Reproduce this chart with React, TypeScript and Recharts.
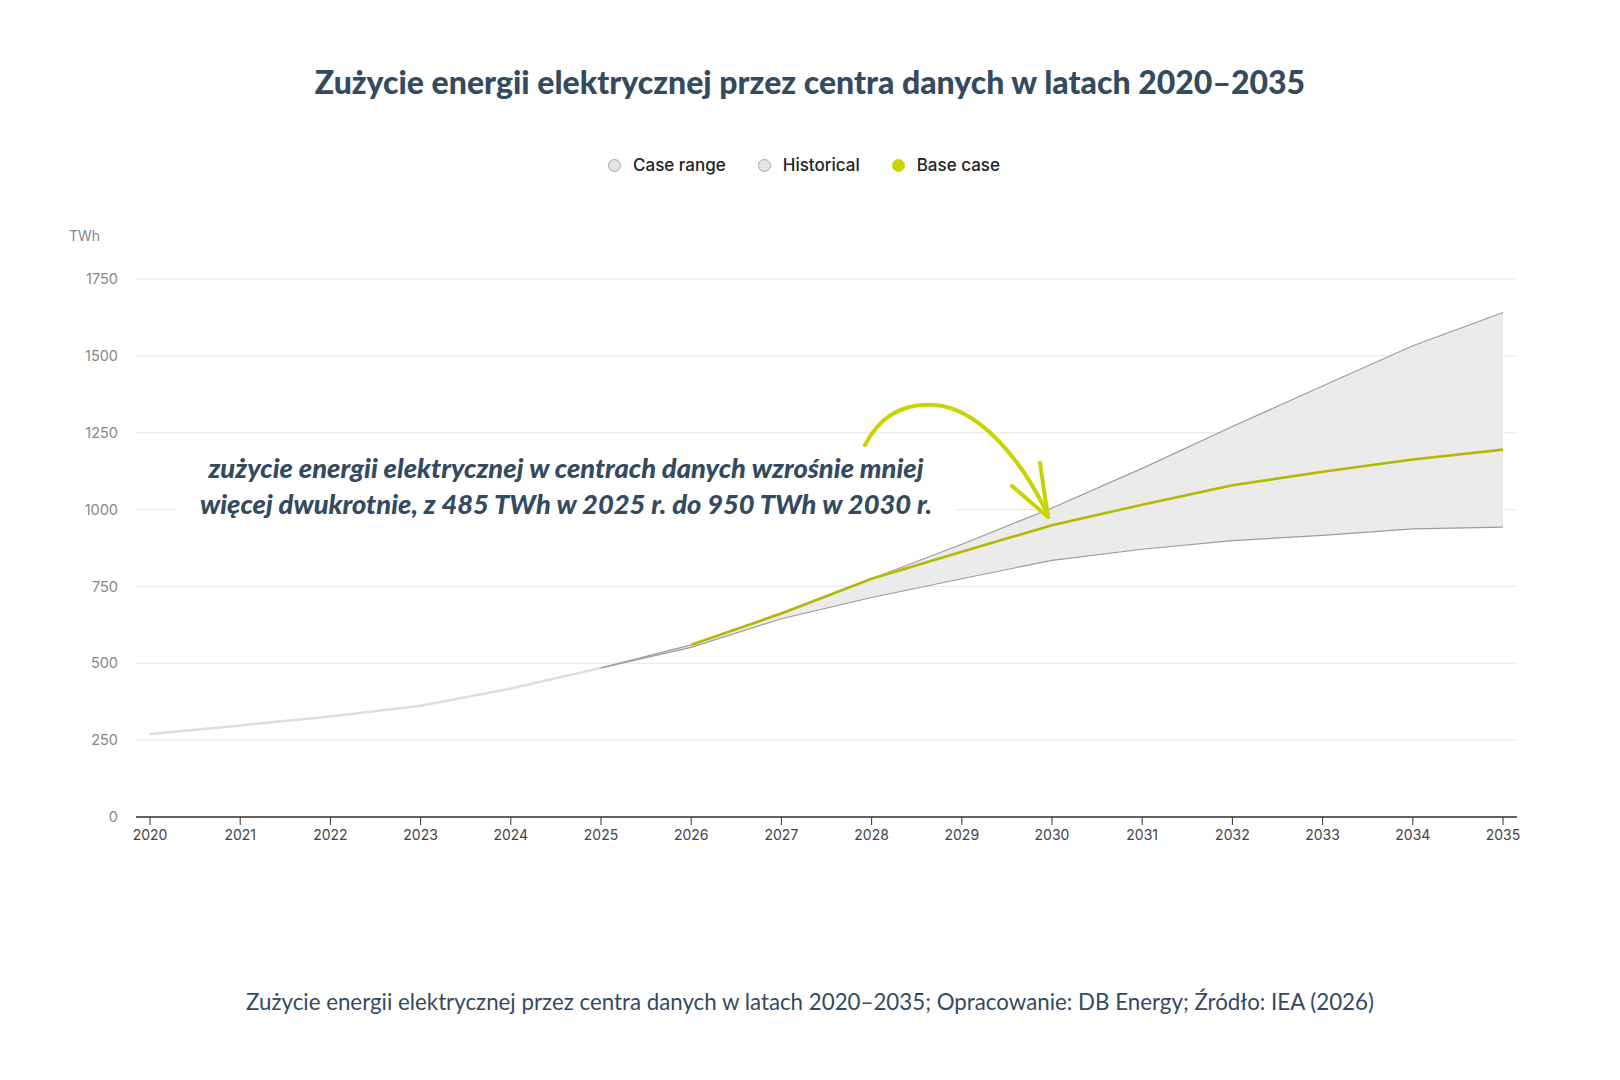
import React from 'react';
import { ComposedChart, Area, Line, XAxis, YAxis, CartesianGrid } from 'recharts';

const years = [2020, 2021, 2022, 2023, 2024, 2025, 2026, 2027, 2028, 2029, 2030, 2031, 2032, 2033, 2034, 2035];
const historical = [270, 298, 327, 362, 418, 485, null, null, null, null, null, null, null, null, null, null];
const caseLow = [null, null, null, null, null, 485, 552, 645, 714, 775, 835, 871, 899, 916, 937, 943];
const caseHigh = [null, null, null, null, null, 485, 560, 664, 775, 887, 1005, 1134, 1270, 1402, 1533, 1641];
const baseCase = [null, null, null, null, null, null, 560, 662, 775, 863, 949, 1016, 1079, 1123, 1163, 1195];
const yTicks = [0, 250, 500, 750, 1000, 1250, 1500, 1750];

const data = years.map((year, i) => ({
  year,
  historical: historical[i],
  low: caseLow[i],
  high: caseHigh[i],
  base: baseCase[i],
  range: caseLow[i] != null && caseHigh[i] != null ? [caseLow[i], caseHigh[i]] : null,
}));

const SLATE = '#344a5e';
const LIME = '#c8d400';
const OLIVE = '#b3b900';

const legendItems = [
  { label: 'Case range', fill: '#e4e4e4', stroke: '#a8a8a8' },
  { label: 'Historical', fill: '#e4e4e4', stroke: '#a8a8a8' },
  { label: 'Base case', fill: LIME, stroke: LIME },
];

export default function App() {
  return (
    <div style={{ position: 'absolute', left: 0, top: 0, width: 1620, height: 1080, background: '#fff', overflow: 'hidden' }}>
      <div
        style={{
          position: 'absolute', top: 61, left: 0, width: 1620, textAlign: 'center',
          fontFamily: 'Lato, sans-serif', fontWeight: 900, fontSize: 32, color: SLATE, lineHeight: '42px',
        }}
      >
        Zużycie energii elektrycznej przez centra danych w latach 2020–2035
      </div>

      <div
        style={{
          position: 'absolute', top: 153, left: 0, width: 1620, display: 'flex', justifyContent: 'center',
          fontFamily: 'Inter, sans-serif', fontWeight: 500, fontSize: 17, color: '#222', lineHeight: '24px',
        }}
      >
        <div style={{ display: 'flex', gap: 32, marginLeft: -12 }}>
          {legendItems.map(it => (
            <div key={it.label} style={{ display: 'flex', alignItems: 'center', gap: 12 }}>
              <div style={{ width: 11, height: 11, borderRadius: '50%', background: it.fill, border: `1px solid ${it.stroke}` }} />
              <span>{it.label}</span>
            </div>
          ))}
        </div>
      </div>

      <div style={{ position: 'absolute', left: 69, top: 227, fontFamily: 'Inter, sans-serif', fontSize: 14, color: '#888' }}>
        TWh
      </div>

      <div style={{ position: 'absolute', left: 0, top: 0 }}>
        <ComposedChart width={1620} height={1080} data={data} margin={{ top: 279, right: 103, bottom: 233, left: 0 }}>
          <CartesianGrid vertical={false} stroke="#e8e8e8" />
          <XAxis
            dataKey="year"
            type="number"
            domain={[2020, 2035]}
            ticks={years}
            interval={0}
            padding={{ left: 14, right: 14 }}
            height={30}
            tick={{ fontSize: 14, fill: '#444', fontFamily: 'Inter, sans-serif' }}
            axisLine={{ stroke: '#333', strokeWidth: 1.5 }}
            tickLine={{ stroke: '#333' }}
            tickSize={8}
            tickMargin={5}
          />
          <YAxis
            width={136}
            domain={[0, 1750]}
            ticks={yTicks}
            axisLine={false}
            tickLine={false}
            tickSize={0}
            tickMargin={18}
            tick={{ fontSize: 14.5, fill: '#888', fontFamily: 'Inter, sans-serif' }}
          />
          <Area dataKey="range" stroke="none" fill="#ebebeb" fillOpacity={1} isAnimationActive={false} connectNulls={false} />
          <Line dataKey="historical" stroke="#dedede" strokeWidth={2.5} dot={false} isAnimationActive={false} />
          <Line dataKey="low" stroke="#9c9c9c" strokeWidth={1.2} dot={false} isAnimationActive={false} />
          <Line dataKey="high" stroke="#9c9c9c" strokeWidth={1.2} dot={false} isAnimationActive={false} />
          <Line dataKey="base" stroke={OLIVE} strokeWidth={2.6} dot={false} isAnimationActive={false} />
        </ComposedChart>
      </div>

      <div
        style={{
          position: 'absolute', left: 176, top: 450, width: 780, textAlign: 'center', background: '#fff',
          fontFamily: 'Lato, sans-serif', fontStyle: 'italic', fontWeight: 900, fontSize: 27.3, lineHeight: '36px', color: SLATE,
        }}
      >
        zużycie energii elektrycznej w centrach danych wzrośnie mniej
        <br />
        więcej dwukrotnie, z 485 TWh w 2025 r. do 950 TWh w 2030 r.
      </div>

      <svg width={1620} height={1080} style={{ position: 'absolute', left: 0, top: 0, pointerEvents: 'none' }}>
        <g fill="none" stroke={LIME} strokeWidth={4} strokeLinecap="round" strokeLinejoin="round">
          <path d="M 865 445 C 882 412, 908 403, 935 405 C 975 408, 1018 452, 1048 515" />
          <path d="M 1040 463 L 1048 517" />
          <path d="M 1012 486 L 1048 517" />
        </g>
      </svg>

      <div
        style={{
          position: 'absolute', left: 0, top: 988, width: 1620, textAlign: 'center',
          fontFamily: 'Lato, sans-serif', fontWeight: 400, fontSize: 22.3, color: SLATE, lineHeight: '28px',
        }}
      >
        Zużycie energii elektrycznej przez centra danych w latach 2020–2035; Opracowanie: DB Energy; Źródło: IEA (2026)
      </div>
    </div>
  );
}
